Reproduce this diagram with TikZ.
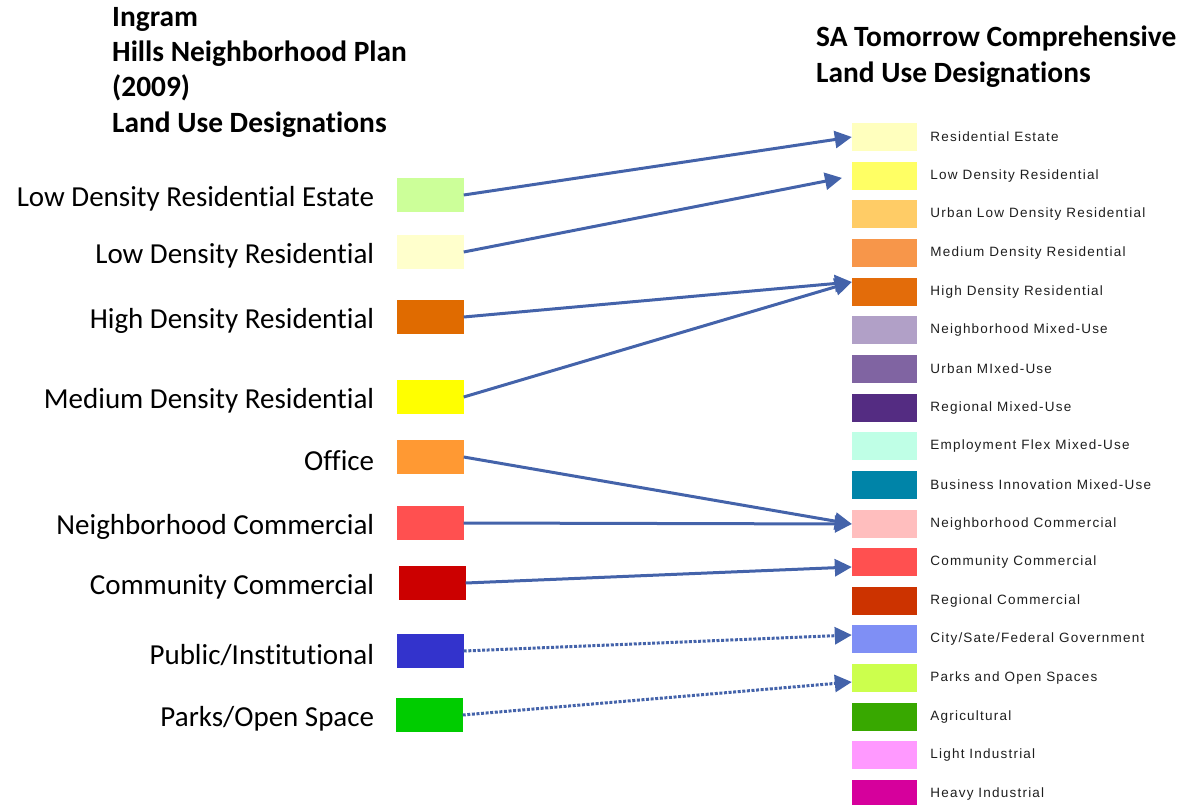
\documentclass[tikz,border=0pt]{standalone}
\usepackage{fontspec}
\setmainfont{Carlito}[Ligatures=NoCommon]
\newfontfamily\legendfont[LetterSpace=9]{Liberation Sans}
\usetikzlibrary{positioning,arrows.meta}
\definecolor{linkblue}{HTML}{4463AA}
\definecolor{legendgray}{HTML}{1E1E1E}
% old plan colours
\definecolor{oldldre}{HTML}{CCFF99}
\definecolor{oldldr}{HTML}{FFFFCC}
\definecolor{oldhdr}{HTML}{E06B00}
\definecolor{oldmdr}{HTML}{FFFF00}
\definecolor{oldoffice}{HTML}{FF9933}
\definecolor{oldnbc}{HTML}{FF5050}
\definecolor{oldcc}{HTML}{CC0000}
\definecolor{oldpi}{HTML}{3333CC}
\definecolor{oldpos}{HTML}{00CC00}
% comprehensive plan colours
\definecolor{resest}{HTML}{FFFFBE}
\definecolor{lowres}{HTML}{FFFF64}
\definecolor{urbanlow}{HTML}{FFCC66}
\definecolor{medres}{HTML}{F7964A}
\definecolor{highres}{HTML}{E36C0A}
\definecolor{nbmixed}{HTML}{B1A0C7}
\definecolor{urbmixed}{HTML}{8064A2}
\definecolor{regmixed}{HTML}{542C82}
\definecolor{empflex}{HTML}{BFFFE6}
\definecolor{businno}{HTML}{0084A8}
\definecolor{nbcomm}{HTML}{FFBEBE}
\definecolor{commcomm}{HTML}{FF5050}
\definecolor{regcomm}{HTML}{CC3300}
\definecolor{govt}{HTML}{7F8FF5}
\definecolor{parks}{HTML}{CCFF4D}
\definecolor{agri}{HTML}{38A800}
\definecolor{lightind}{HTML}{FF99FF}
\definecolor{heavyind}{HTML}{D6009C}
\tikzset{
  flowarrow/.style={-{Triangle[length=17pt,width=17pt]}, line width=3pt, linkblue},
  dotarrow/.style={flowarrow, dash pattern=on 3pt off 1.6pt},
  planbox/.style={minimum width=67pt, minimum height=34pt, inner sep=0pt},
  planlabel/.style={inner sep=0pt, yshift=-4pt, font=\fontsize{29}{35}\selectfont},
  swatch/.style={minimum width=65pt, minimum height=28pt, inner sep=0pt},
  legendtext/.style={inner sep=0pt, text=legendgray, font=\legendfont\fontsize{13.5}{16}\selectfont},
  heading/.style={inner sep=0pt, align=left, font=\bfseries\fontsize{29.4}{35.3}\selectfont}
}

\begin{document}
\begin{tikzpicture}[x=1pt, y=-1pt]
  \useasboundingbox (0,0) rectangle (1184,805);
  % headings
  \node[heading, anchor=north west] (oldhead) at (112,7) {Ingram\\Hills Neighborhood Plan\\(2009)\\Land Use Designations};
  \node[heading, anchor=north west] (newhead) at (816,26) {SA Tomorrow Comprehensive\\Land Use Designations};

  % old plan boxes
  \node[planbox, fill=oldldre] (ldre) at (430,195) {};
  \node[planbox, fill=oldldr] (ldr) at (430,252) {};
  \node[planbox, fill=oldhdr] (hdr) at (430,317) {};
  \node[planbox, fill=oldmdr] (mdr) at (430,397) {};
  \node[planbox, fill=oldoffice] (office) at (430,457) {};
  \node[planbox, fill=oldnbc] (nbc) at (430,523) {};
  \node[planbox, fill=oldcc] (cc) at (432,583) {};
  \node[planbox, fill=oldpi] (pi) at (430,651) {};
  \node[planbox, fill=oldpos] (pos) at (429,715) {};
  \node[planlabel, left=22pt of ldre] {Low Density Residential Estate};
  \node[planlabel, left=22pt of ldr] {Low Density Residential};
  \node[planlabel, left=22pt of hdr] {High Density Residential};
  \node[planlabel, left=22pt of mdr] {Medium Density Residential};
  \node[planlabel, left=22pt of office] {Office};
  \node[planlabel, left=22pt of nbc] {Neighborhood Commercial};
  \node[planlabel, left=24pt of cc] {Community Commercial};
  \node[planlabel, left=22pt of pi] {Public/Institutional};
  \node[planlabel, left=21pt of pos] {Parks/Open Space};

  % comprehensive plan legend
  \node[swatch, fill=resest] (sresest) at (884.5,137) {};
  \node[swatch, fill=lowres] (slowres) at (884.5,176) {};
  \node[swatch, fill=urbanlow] (surbanlow) at (884.5,214) {};
  \node[swatch, fill=medres] (smedres) at (884.5,253) {};
  \node[swatch, fill=highres] (shighres) at (884.5,292) {};
  \node[swatch, fill=nbmixed] (snbmixed) at (884.5,330) {};
  \node[swatch, fill=urbmixed] (surbmixed) at (884.5,369) {};
  \node[swatch, fill=regmixed] (sregmixed) at (884.5,408) {};
  \node[swatch, fill=empflex] (sempflex) at (884.5,446) {};
  \node[swatch, fill=businno] (sbusinno) at (884.5,485) {};
  \node[swatch, fill=nbcomm] (snbcomm) at (884.5,524) {};
  \node[swatch, fill=commcomm] (scommcomm) at (884.5,562) {};
  \node[swatch, fill=regcomm] (sregcomm) at (884.5,601) {};
  \node[swatch, fill=govt] (sgovt) at (884.5,639) {};
  \node[swatch, fill=parks] (sparks) at (884.5,678) {};
  \node[swatch, fill=agri] (sagri) at (884.5,717) {};
  \node[swatch, fill=lightind] (slightind) at (884.5,755) {};
  \node[swatch, fill=heavyind] (sheavyind) at (884.5,794) {};
  \node[legendtext, right=13pt of sresest] {Residential Estate};
  \node[legendtext, right=13pt of slowres] {Low Density Residential};
  \node[legendtext, right=13pt of surbanlow] {Urban Low Density Residential};
  \node[legendtext, right=13pt of smedres] {Medium Density Residential};
  \node[legendtext, right=13pt of shighres] {High Density Residential};
  \node[legendtext, right=13pt of snbmixed] {Neighborhood Mixed-Use};
  \node[legendtext, right=13pt of surbmixed] {Urban MIxed-Use};
  \node[legendtext, right=13pt of sregmixed] {Regional Mixed-Use};
  \node[legendtext, right=13pt of sempflex] {Employment Flex Mixed-Use};
  \node[legendtext, right=13pt of sbusinno] {Business Innovation Mixed-Use};
  \node[legendtext, right=13pt of snbcomm] {Neighborhood Commercial};
  \node[legendtext, right=13pt of scommcomm] {Community Commercial};
  \node[legendtext, right=13pt of sregcomm] {Regional Commercial};
  \node[legendtext, right=13pt of sgovt] {City/Sate/Federal Government};
  \node[legendtext, right=13pt of sparks] {Parks and Open Spaces};
  \node[legendtext, right=13pt of sagri] {Agricultural};
  \node[legendtext, right=13pt of slightind] {Light Industrial};
  \node[legendtext, right=13pt of sheavyind] {Heavy Industrial};

  % links from old to new designations
  \draw[flowarrow] (ldre.east) -- (sresest.west);
  \draw[flowarrow, shorten >=10pt] (ldr.east) -- (slowres.west);
  \draw[flowarrow] (hdr.east) -- ([yshift=10pt]shighres.west);
  \draw[flowarrow] (mdr.east) -- ([yshift=10pt]shighres.west);
  \draw[flowarrow] (office.east) -- (snbcomm.west);
  \draw[flowarrow] (nbc.east) -- (snbcomm.west);
  \draw[flowarrow] (cc.east) -- ([yshift=-5pt]scommcomm.west);
  \draw[dotarrow] (pi.east) -- ([yshift=4pt]sgovt.west);
  \draw[dotarrow] (pos.east) -- ([yshift=-4pt]sparks.west);
\end{tikzpicture}
\end{document}
